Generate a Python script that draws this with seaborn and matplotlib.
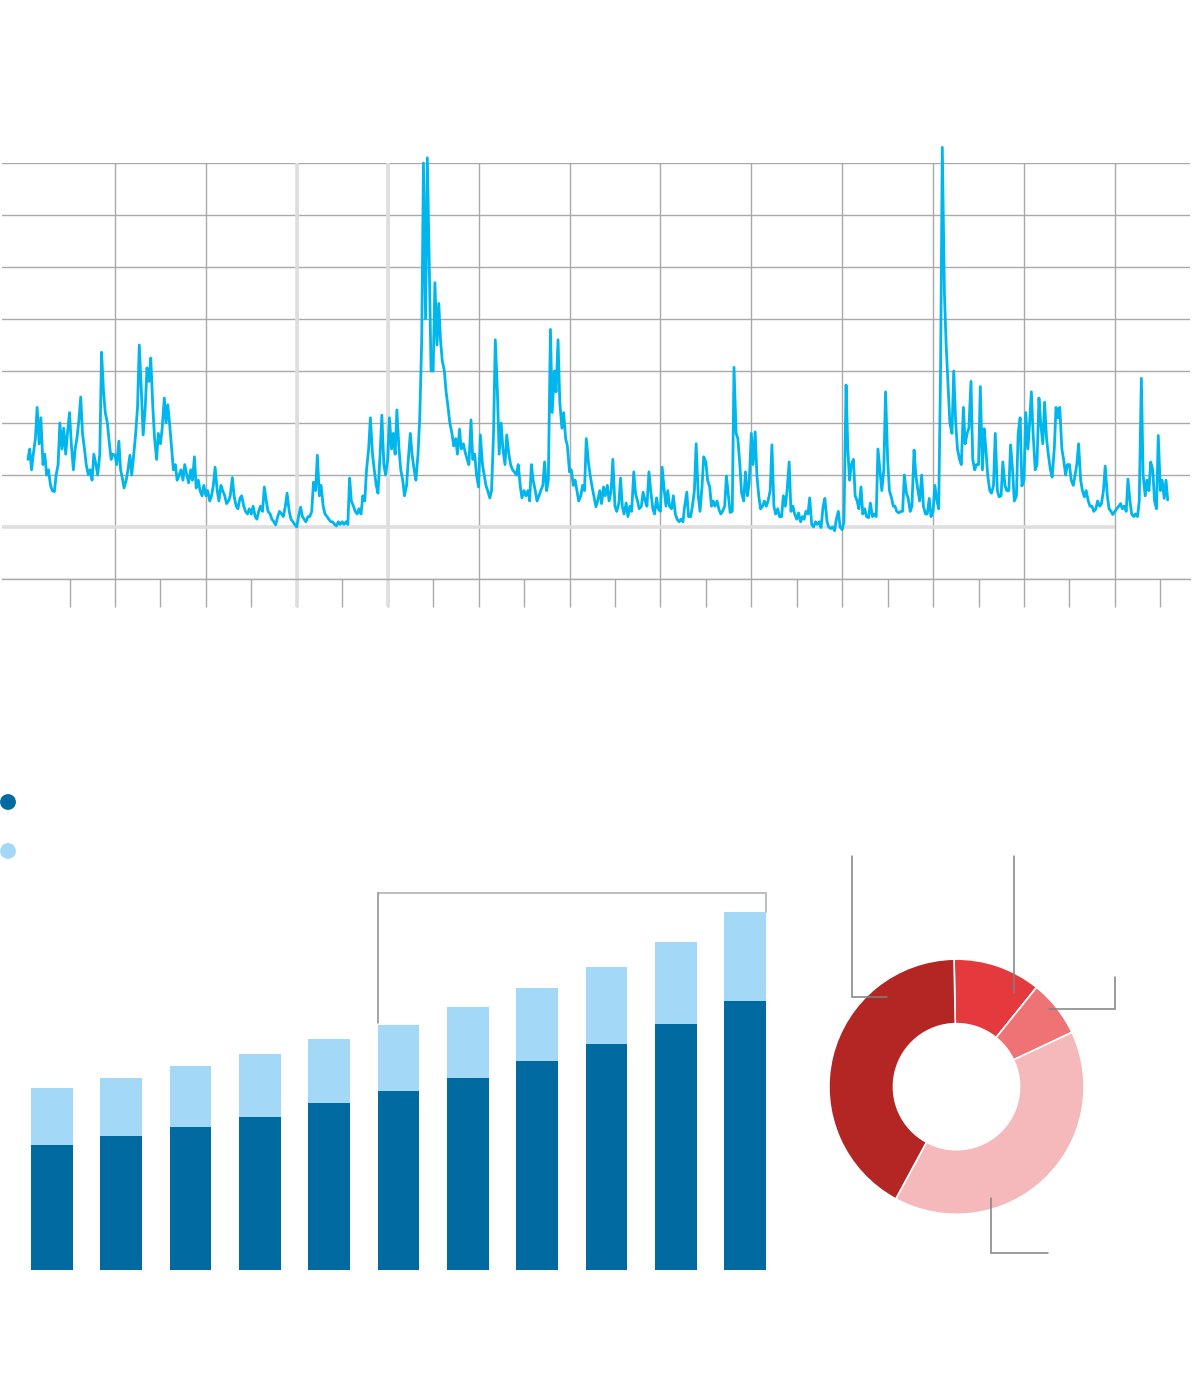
import numpy as np
import pandas as pd
import matplotlib
matplotlib.use("Agg")
import matplotlib.pyplot as plt
import seaborn as sns

# ── Colours ────────────────────────────────────────────────────────────────
LINE_BLUE  = "#00b6ec"
GRID       = "#a9a9a9"
GRID_LIGHT = "#dedede"
DARK_BLUE  = "#006aa1"
LIGHT_BLUE = "#a3d9f6"
LEADER     = "#808080"
DONUT_COLS = ["#e53a3d", "#ef7375", "#f5b9bb", "#b32624"]

# ── Data: volatility index, semi-monthly readings (1st / 15th) ─────────────
vix_start = "2000-02-01"
vix_close = [
    23, 25, 21, 24, 27, 33, 26, 31, 22, 24, 20, 21, 18, 17, 16.8, 20, 22, 30, 25, 29, 24, 28,          # 2000
    32, 26, 21, 25, 27, 30, 35, 28, 25, 22, 20, 21, 19, 24, 22, 20, 24, 43.6, 36, 32, 30, 26.5, 23, 24,  # 2001
    23.8, 22, 26.5, 21, 19.4, 17.5, 19, 21, 23.8, 20, 24, 27.7, 33, 45, 36, 27.7, 33, 40.6, 38, 42.5, 33, 27, 23, 28,  # 2002
    26, 29, 34.8, 30, 33.5, 30, 25, 21, 22, 19, 20, 21, 19, 22, 20, 18.5, 21, 19, 23.5, 17.5, 19, 17, 16, 18,  # 2003
    16, 17, 15, 16, 18, 21.5, 17, 15, 18, 17, 16, 14.5, 15, 16, 19.5, 16, 14, 13.5, 15.5, 16, 14, 13, 12.5, 13.5,  # 2004
    12.5, 14, 12, 11.5, 13, 14, 13, 17.7, 15, 13, 12.5, 11.5, 11, 10.4, 12, 13, 12.5, 12, 14, 16.5, 13, 11.5, 11, 10.5,  # 2005
    10, 12, 13.8, 12, 11.5, 11, 12, 12, 13, 18.6, 17, 23.8, 16, 18, 14, 12.5, 12, 11.5, 11, 11, 10.5, 10.2, 11, 10.5,  # 2006
    11, 10.5, 11, 10.5, 19.4, 15, 14, 13, 12.5, 13.5, 12.5, 16, 15, 21, 25, 31, 24, 21, 18, 16.5, 24, 31.5, 22, 20,  # 2007
    23, 31, 25, 28, 24, 32.5, 25, 21, 19, 16, 18, 23, 28, 24, 21, 19, 24, 31, 46, 80, 50, 81, 60, 40,  # 2008
    40, 57, 45, 53, 46, 42, 40, 36, 33, 30, 28, 25.6, 27, 24, 28.8, 25, 26, 24.4, 23, 22, 30.6, 23, 24, 20,  # 2009
    17.7, 27.7, 22, 20, 18, 17, 15.6, 17, 28, 46, 36, 24, 30, 25, 22, 27.7, 24, 22, 21, 20.6, 20, 22, 18, 15.6,  # 2010
    17, 16, 17, 15, 22, 19, 17, 15, 16, 17, 18, 22.5, 17, 19, 48, 32, 40, 36, 46, 34, 29, 32, 27, 25.6,  # 2011
    20.6, 21, 18, 19, 17, 15, 16, 18, 17, 27, 22.5, 20, 17.7, 16, 13.9, 15, 17, 14.5, 17.7, 16, 18, 15, 17, 23,  # 2012
    14, 13, 14.5, 19.4, 14, 12.5, 14.6, 12, 14, 13, 20.6, 16.5, 15, 13.5, 14, 16.7, 15, 14, 20.6, 17, 13.5, 12.5, 15.6, 13.5,  # 2013
    13, 21.5, 17, 14, 17, 14, 13.5, 16, 12.5, 11.5, 11, 11.5, 11, 14, 16.7, 12, 12, 14, 17, 26, 16, 13, 17.7, 23.5,  # 2014
    22.5, 19, 17.7, 14, 15, 14, 15, 13.5, 12.5, 13, 14, 19.8, 16, 12.8, 13, 40.7, 28, 27, 22, 16.5, 15, 20.6, 16, 18.5,  # 2015
    28, 22, 28.3, 20, 16, 13.5, 14, 15, 14, 15, 17, 25.8, 14, 12.5, 13.5, 12, 12, 16, 14, 17, 22.5, 13, 14, 12.5,  # 2016
    11.5, 12.7, 11, 12, 11.5, 13, 12.5, 15.6, 10.5, 10, 11, 10.5, 11, 9.9, 14, 15.5, 11, 10, 9.7, 10, 9.3, 11.5, 13, 10,  # 2017
    9.5, 11, 37.3, 25, 19, 22, 23, 16, 15, 13.5, 17.7, 12.5, 13.5, 12, 11.8, 14.6, 12, 12.5, 12, 25, 20.6, 17, 21, 36,  # 2018
    23, 17, 15.6, 14, 14, 13, 12.7, 13, 13, 20, 16.5, 15.5, 13, 14, 24.8, 20, 17, 15, 20, 14, 12.5, 12.5, 15.5, 12,  # 2019
    13, 18, 15, 13.5, 40, 83, 55, 45, 37, 30, 28, 40, 30, 25, 23, 22, 33, 26, 28, 29, 38, 23, 21, 22,  # 2020
    22, 37, 21, 28.9, 25, 20, 17, 16.5, 18, 28, 17, 15.8, 16, 22.5, 18, 17, 17, 25.8, 21, 15, 16, 28, 31, 17.9,  # 2021
    19, 32, 25, 30, 36, 28, 21, 22, 34.8, 30, 26, 34, 27, 24, 21, 19.6, 25, 33, 31, 33, 25, 23, 20, 22,  # 2022
    22, 19, 18, 20, 22, 26, 19, 17, 15.8, 17, 15, 14, 14, 13, 13.5, 15, 14, 14.5, 17, 21.7, 16, 13.5, 13, 12.4,  # 2023
    13, 13.5, 14, 14.5, 13.5, 14, 13, 19.2, 15, 12.5, 12, 12.5, 12, 15, 38.6, 20, 16, 19, 17, 22.5, 21, 15, 13.5, 27.6,  # 2024
    17, 19, 15.5, 19, 15.2,  # 2025
]

# ── Data: stacked bars (two components) ────────────────────────────────────
bar_labels = list(range(11))
bar_dark   = [124.7, 133.7, 143.0, 153.0, 166.7, 179.0, 192.0, 209.3, 226.0, 245.7, 269.3]
bar_light  = [57.0, 58.3, 61.0, 63.0, 64.0, 66.3, 71.3, 72.7, 77.0, 82.6, 88.7]

# ── Data: donut shares (%) clockwise from top ──────────────────────────────
donut_shares = [11.1, 7.2, 39.9, 41.8]


def year_fraction(dates):
    d = pd.DatetimeIndex(dates)
    days = np.where(d.is_leap_year, 366, 365)
    return d.year + (d.dayofyear - 1) / days


sns.set_style("white")
fig = plt.figure(figsize=(12, 13.74), dpi=100)
W, H = 1200, 1374


def px_axes(left, top, right, bottom, **kw):
    return fig.add_axes([left / W, 1 - bottom / H, (right - left) / W, (bottom - top) / H], **kw)


# ── Top: line chart ────────────────────────────────────────────────────────
dates = pd.date_range(vix_start, periods=len(vix_close), freq="SMS")
line_df = pd.DataFrame({"year": year_fraction(dates), "vix": vix_close})

TOP, BASE = 163, 579
ax = px_axes(2, TOP, 1190, BASE)
sns.lineplot(data=line_df, x="year", y="vix", ax=ax, color=LINE_BLUE,
             linewidth=2.0, zorder=3)
ax.lines[0].set_clip_on(False)
ax.set_xlim(1999.514, 2025.652)
ax.set_ylim(0, 80)
ax.set_xticks(range(2002, 2025, 2))
ax.set_xticks(range(2001, 2026, 2), minor=True)
ax.set_yticks(range(0, 81, 10))
ax.set_axisbelow(True)
ax.grid(True, which="major", color=GRID, linewidth=1.0)
ax.tick_params(axis="x", which="both", bottom=True, direction="out", length=20.5,
               width=1.0, color=GRID, labelbottom=False)
ax.tick_params(axis="y", length=0, left=False, labelleft=False)
ax.set_xlabel("")
ax.set_ylabel("")
for side in ["top", "right", "left"]:
    ax.spines[side].set_visible(False)
ax.spines["bottom"].set_color(GRID)
ax.spines["bottom"].set_linewidth(1.0)

# lighter reference lines: two years and the 10 level
tick_data = 28 * 80 / (BASE - TOP)
for yr in (2006, 2008):
    ax.vlines(yr, -tick_data, 80, color=GRID_LIGHT, linewidth=2.6, zorder=1.5,
              clip_on=False)
for tick in ax.yaxis.get_major_ticks():
    if tick.get_loc() == 10:
        tick.gridline.set_visible(False)
ax.hlines(10, ax.get_xlim()[0], 2024, color=GRID_LIGHT, linewidth=2.6, zorder=1.4)

# ── Bottom left: stacked bars ──────────────────────────────────────────────
bar_total = [d + l for d, l in zip(bar_dark, bar_light)]
bar_df = pd.DataFrame({"pos": bar_labels, "dark": bar_dark, "total": bar_total})

axb = px_axes(17.35, 880, 779.65, 1270)
sns.barplot(data=bar_df, x="pos", y="total", color=LIGHT_BLUE, saturation=1,
            width=0.602, linewidth=0, ax=axb)
sns.barplot(data=bar_df, x="pos", y="dark", color=DARK_BLUE, saturation=1,
            width=0.602, linewidth=0, ax=axb)
axb.set_xlim(-0.5, 10.5)
axb.set_ylim(0, 390)
axb.axis("off")

# bracket over the last six bars
half = 0.301
bracket_y = 377.3
axb.plot([5 - half, 10 + half, 10 + half], [bracket_y, bracket_y, bar_total[10] + 0.3],
         color="#bdbdbd", linewidth=1.4, clip_on=False, solid_joinstyle="miter")
axb.plot([5 - half, 5 - half], [bar_total[5] + 1.7, bracket_y],
         color="#8c8c8c", linewidth=1.1, clip_on=False)

# ── Bottom right: donut ────────────────────────────────────────────────────
cx, cy, r = 956.5, 1086.7, 127.6
axp = px_axes(cx - r, cy - r, cx + r, cy + r)
axp.pie(donut_shares, colors=DONUT_COLS, startangle=91.1, counterclock=False,
        wedgeprops=dict(width=0.506, edgecolor="white", linewidth=1.2))
axp.set_xlim(-1, 1)
axp.set_ylim(-1, 1)
axp.set_aspect("equal")
axp.axis("off")

# ── Overlay: legend dots and leader lines (pixel space) ────────────────────
ov = fig.add_axes([0, 0, 1, 1], facecolor="none", zorder=10)
ov.set_xlim(0, W)
ov.set_ylim(H, 0)
ov.axis("off")
ov.scatter([8, 8], [802, 851], s=130, c=[DARK_BLUE, LIGHT_BLUE], linewidths=0)

leaders = [
    ([852.3, 852.3, 886.7], [856, 996.7, 996.7]),
    ([1014.3, 1014.3], [856, 993.3]),
    ([1049.3, 1115.3, 1115.3], [1009.3, 1009.3, 976.7]),
    ([991.3, 991.3, 1047.7], [1198.3, 1253.3, 1253.3]),
]
for xs, ys in leaders:
    ov.plot(xs, ys, color=LEADER, linewidth=1.1, solid_joinstyle="miter")

fig.savefig("out.png", dpi=100)
plt.close(fig)
